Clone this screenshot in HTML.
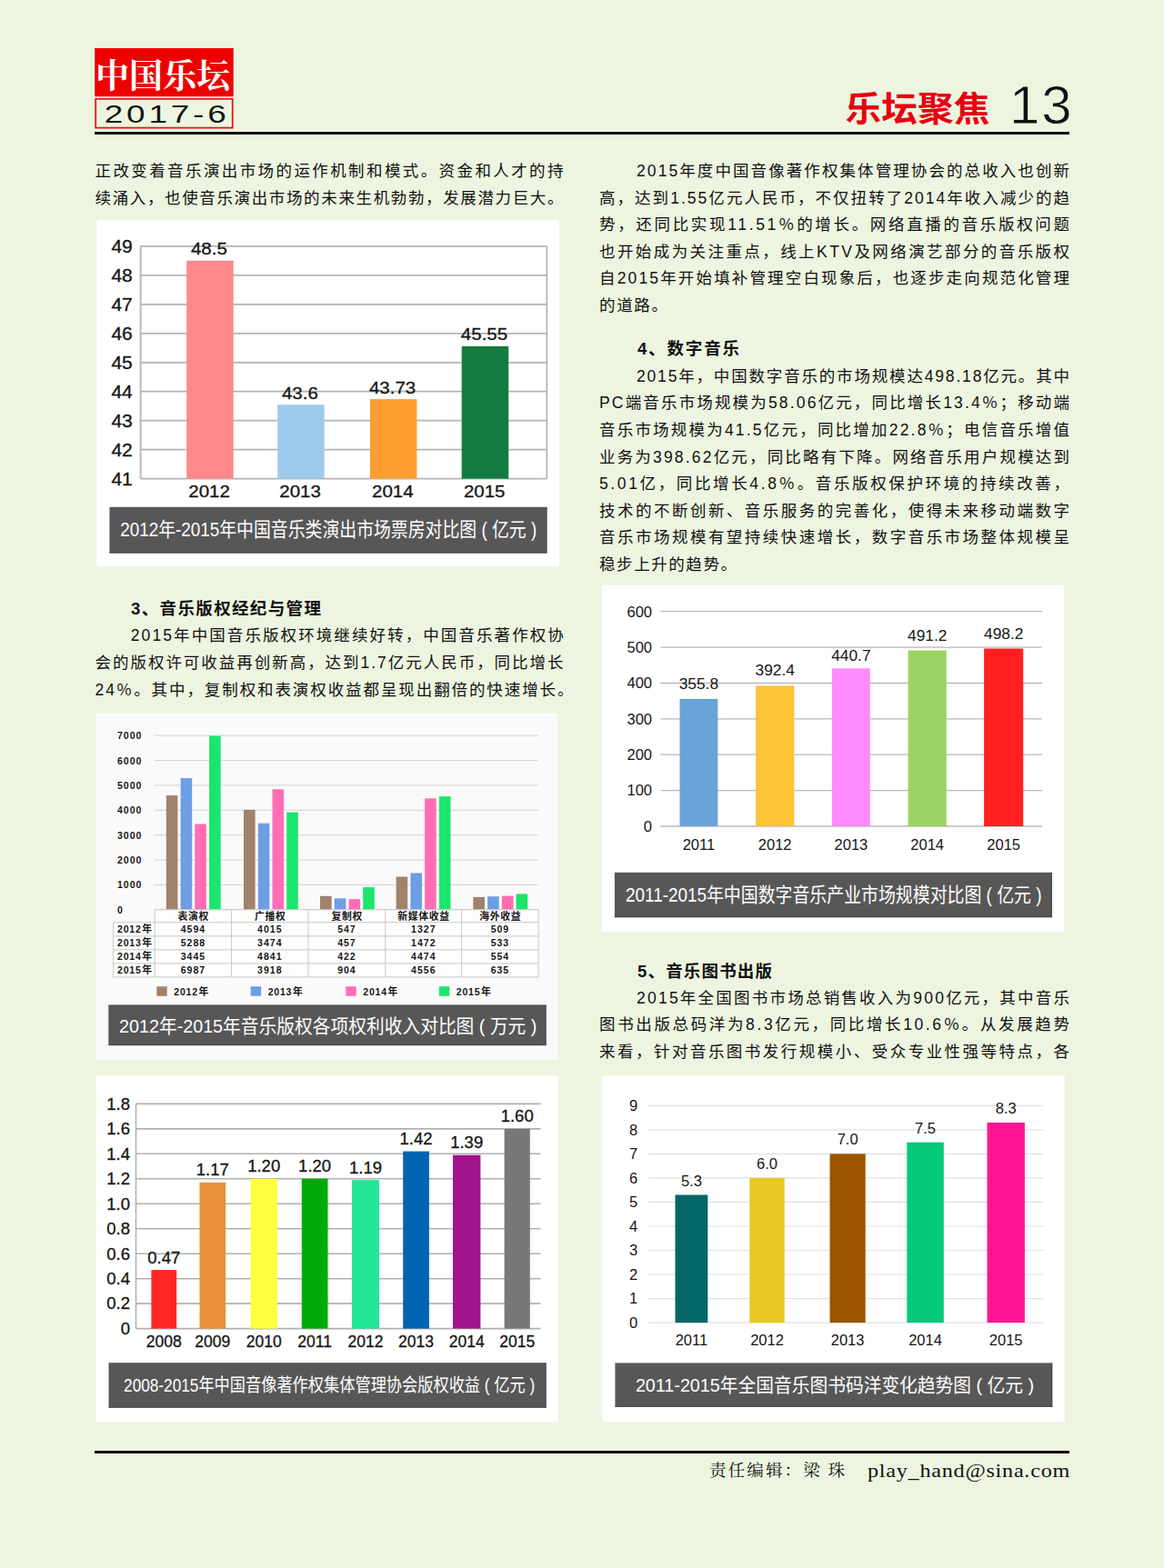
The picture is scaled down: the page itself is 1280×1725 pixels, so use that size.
<!DOCTYPE html>
<html lang="zh-CN"><head><meta charset="utf-8"><title>乐坛聚焦 13</title>
<style>
html,body{margin:0;padding:0}
body{width:1280px;height:1725px;background:#edf5e0;position:relative;overflow:hidden;font-family:"Liberation Sans","Noto Sans CJK SC",sans-serif;color:#151515}
svg{position:absolute;left:0;top:0;font-family:"Liberation Sans","Noto Sans CJK SC",sans-serif}
.t{position:absolute;margin:0;font-weight:normal;line-height:1.4;white-space:nowrap;overflow:hidden;color:transparent}
.pn{position:absolute;left:1102.2px;top:83.7px;width:78.5px;height:64px;line-height:64px;font-size:60px;letter-spacing:2px;text-align:right;color:#111;-webkit-text-stroke:0.8px #edf5e0}
.fe{position:absolute;left:954px;top:1604.6px;width:200px;height:26px;line-height:26px;font-size:21px;letter-spacing:0.66px;transform:scaleX(1.15);transform-origin:0 0;font-family:"Liberation Serif",serif;white-space:nowrap;color:#111}
.bd{font-size:17.5px;fill:#111}
.hd{font-size:18.5px;font-weight:bold;fill:#111}
.th{font-size:10.8px;font-weight:bold;fill:#151515}
</style></head><body>
<svg width="1280" height="1725" viewBox="0 0 1280 1725">
<rect x="0.0" y="0.0" width="1280.0" height="1.0" fill="#f4f8ea"/>
<rect x="0.0" y="1724.0" width="1280.0" height="1.0" fill="#f4f8ea"/>
<rect x="17.5" y="0.0" width="1.0" height="1725.0" fill="#f0f6e5"/>
<rect x="104.2" y="53.0" width="152.5" height="53.2" fill="#ee0000"/>
<text x="105" y="97" font-size="37" font-weight="bold" fill="#fff" textLength="148" lengthAdjust="spacingAndGlyphs" font-family='"Liberation Serif","Noto Serif CJK SC",serif'>中国乐坛</text>
<rect x="105.2" y="108.8" width="150.5" height="31.8" fill="none" stroke="#e8141a" stroke-width="1.8"/>
<text transform="translate(183.6 135.4) scale(1.31 1)" font-size="28.2" letter-spacing="2.9" text-anchor="middle" fill="#151515">2017-6</text>
<rect x="104.0" y="145.0" width="1072.0" height="3.0" fill="#111"/>
<rect x="104.0" y="1596.0" width="1072.0" height="3.0" fill="#111"/>
<text x="929.5" y="132.7" font-size="38" font-weight="bold" fill="#e60012" textLength="159" lengthAdjust="spacingAndGlyphs">乐坛聚焦</text>
<rect x="106.3" y="242.4" width="508.6" height="380.9" fill="#fff"/>
<path d="M154.6 270.9H601.4" stroke="#b4b4b4" stroke-width="1.8"/>
<text x="145.8" y="277.8" font-size="19.3" text-anchor="end" fill="#151515" stroke="#151515" stroke-width="0.3" textLength="23.4" lengthAdjust="spacingAndGlyphs">49</text>
<path d="M154.6 302.9H601.4" stroke="#b4b4b4" stroke-width="1.8"/>
<text x="145.8" y="309.8" font-size="19.3" text-anchor="end" fill="#151515" stroke="#151515" stroke-width="0.3" textLength="23.4" lengthAdjust="spacingAndGlyphs">48</text>
<path d="M154.6 334.8H601.4" stroke="#b4b4b4" stroke-width="1.8"/>
<text x="145.8" y="341.7" font-size="19.3" text-anchor="end" fill="#151515" stroke="#151515" stroke-width="0.3" textLength="23.4" lengthAdjust="spacingAndGlyphs">47</text>
<path d="M154.6 366.8H601.4" stroke="#b4b4b4" stroke-width="1.8"/>
<text x="145.8" y="373.7" font-size="19.3" text-anchor="end" fill="#151515" stroke="#151515" stroke-width="0.3" textLength="23.4" lengthAdjust="spacingAndGlyphs">46</text>
<path d="M154.6 398.8H601.4" stroke="#b4b4b4" stroke-width="1.8"/>
<text x="145.8" y="405.6" font-size="19.3" text-anchor="end" fill="#151515" stroke="#151515" stroke-width="0.3" textLength="23.4" lengthAdjust="spacingAndGlyphs">45</text>
<path d="M154.6 430.7H601.4" stroke="#b4b4b4" stroke-width="1.8"/>
<text x="145.8" y="437.6" font-size="19.3" text-anchor="end" fill="#151515" stroke="#151515" stroke-width="0.3" textLength="23.4" lengthAdjust="spacingAndGlyphs">44</text>
<path d="M154.6 462.7H601.4" stroke="#b4b4b4" stroke-width="1.8"/>
<text x="145.8" y="469.6" font-size="19.3" text-anchor="end" fill="#151515" stroke="#151515" stroke-width="0.3" textLength="23.4" lengthAdjust="spacingAndGlyphs">43</text>
<path d="M154.6 494.6H601.4" stroke="#b4b4b4" stroke-width="1.8"/>
<text x="145.8" y="501.5" font-size="19.3" text-anchor="end" fill="#151515" stroke="#151515" stroke-width="0.3" textLength="23.4" lengthAdjust="spacingAndGlyphs">42</text>
<path d="M154.6 526.6H601.4" stroke="#b4b4b4" stroke-width="1.8"/>
<text x="145.8" y="533.5" font-size="19.3" text-anchor="end" fill="#151515" stroke="#151515" stroke-width="0.3" textLength="23.4" lengthAdjust="spacingAndGlyphs">41</text>
<path d="M154.6 270.9V526.6" stroke="#b4b4b4" stroke-width="1.8"/>
<path d="M601.4 270.9V526.6" stroke="#b4b4b4" stroke-width="1.8"/>
<rect x="205.2" y="286.7" width="51.5" height="239.9" fill="#ff8888"/>
<text x="229.9" y="280.2" font-size="19" text-anchor="middle" fill="#151515" stroke="#151515" stroke-width="0.3" textLength="39.9" lengthAdjust="spacingAndGlyphs">48.5</text>
<text x="230.1" y="546.6" font-size="18" text-anchor="middle" fill="#151515" stroke="#151515" stroke-width="0.3" textLength="45.6" lengthAdjust="spacingAndGlyphs">2012</text>
<rect x="305.2" y="445.2" width="51.5" height="81.4" fill="#9ecbec"/>
<text x="329.9" y="438.7" font-size="19" text-anchor="middle" fill="#151515" stroke="#151515" stroke-width="0.3" textLength="39.9" lengthAdjust="spacingAndGlyphs">43.6</text>
<text x="330.1" y="546.6" font-size="18" text-anchor="middle" fill="#151515" stroke="#151515" stroke-width="0.3" textLength="45.6" lengthAdjust="spacingAndGlyphs">2013</text>
<rect x="406.9" y="439.1" width="51.5" height="87.5" fill="#ff9e30"/>
<text x="431.6" y="432.6" font-size="19" text-anchor="middle" fill="#151515" stroke="#151515" stroke-width="0.3" textLength="51.3" lengthAdjust="spacingAndGlyphs">43.73</text>
<text x="431.8" y="546.6" font-size="18" text-anchor="middle" fill="#151515" stroke="#151515" stroke-width="0.3" textLength="45.6" lengthAdjust="spacingAndGlyphs">2014</text>
<rect x="507.7" y="380.9" width="51.5" height="145.7" fill="#147b40"/>
<text x="532.5" y="374.4" font-size="19" text-anchor="middle" fill="#151515" stroke="#151515" stroke-width="0.3" textLength="51.3" lengthAdjust="spacingAndGlyphs">45.55</text>
<text x="532.7" y="546.6" font-size="18" text-anchor="middle" fill="#151515" stroke="#151515" stroke-width="0.3" textLength="45.6" lengthAdjust="spacingAndGlyphs">2015</text>
<rect x="120.4" y="557.8" width="481.0" height="50.7" fill="#575757"/>
<rect x="600.2" y="557.8" width="1.2" height="50.7" fill="#474747"/>
<rect x="120.4" y="607.3" width="481.0" height="1.2" fill="#474747"/>
<text x="132.2" y="590.2" font-size="22" fill="#fff" textLength="458" lengthAdjust="spacingAndGlyphs">2012年-2015年中国音乐类演出市场票房对比图 ( 亿元 )</text>
<rect x="105.4" y="784.7" width="508.3" height="381.1" fill="#fafafa"/>
<path d="M170.2 809.2H592.1" stroke="#d2d2d2" stroke-width="1"/>
<text x="129.0" y="813.1" font-size="10.5" text-anchor="start" fill="#151515" font-weight="bold" letter-spacing="1">7000</text>
<path d="M170.2 836.6H592.1" stroke="#d2d2d2" stroke-width="1"/>
<text x="129.0" y="840.5" font-size="10.5" text-anchor="start" fill="#151515" font-weight="bold" letter-spacing="1">6000</text>
<path d="M170.2 863.9H592.1" stroke="#d2d2d2" stroke-width="1"/>
<text x="129.0" y="867.8" font-size="10.5" text-anchor="start" fill="#151515" font-weight="bold" letter-spacing="1">5000</text>
<path d="M170.2 891.3H592.1" stroke="#d2d2d2" stroke-width="1"/>
<text x="129.0" y="895.2" font-size="10.5" text-anchor="start" fill="#151515" font-weight="bold" letter-spacing="1">4000</text>
<path d="M170.2 918.7H592.1" stroke="#d2d2d2" stroke-width="1"/>
<text x="129.0" y="922.6" font-size="10.5" text-anchor="start" fill="#151515" font-weight="bold" letter-spacing="1">3000</text>
<path d="M170.2 946.1H592.1" stroke="#d2d2d2" stroke-width="1"/>
<text x="129.0" y="950.0" font-size="10.5" text-anchor="start" fill="#151515" font-weight="bold" letter-spacing="1">2000</text>
<path d="M170.2 973.4H592.1" stroke="#d2d2d2" stroke-width="1"/>
<text x="129.0" y="977.3" font-size="10.5" text-anchor="start" fill="#151515" font-weight="bold" letter-spacing="1">1000</text>
<path d="M170.2 1000.8H592.1" stroke="#d2d2d2" stroke-width="1"/>
<text x="129.0" y="1004.7" font-size="10.5" text-anchor="start" fill="#151515" font-weight="bold" letter-spacing="1">0</text>
<rect x="182.8" y="875.1" width="12.6" height="125.7" fill="#a0826d"/>
<rect x="198.6" y="856.1" width="12.6" height="144.7" fill="#6d9ee6"/>
<rect x="214.3" y="906.5" width="12.6" height="94.3" fill="#ff6eb4"/>
<rect x="230.1" y="809.6" width="12.6" height="191.2" fill="#1ce56c"/>
<rect x="268.0" y="890.9" width="12.6" height="109.9" fill="#a0826d"/>
<rect x="283.8" y="905.7" width="12.6" height="95.1" fill="#6d9ee6"/>
<rect x="299.5" y="868.3" width="12.6" height="132.5" fill="#ff6eb4"/>
<rect x="315.2" y="893.6" width="12.6" height="107.2" fill="#1ce56c"/>
<rect x="352.0" y="985.8" width="12.6" height="15.0" fill="#a0826d"/>
<rect x="367.8" y="988.3" width="12.6" height="12.5" fill="#6d9ee6"/>
<rect x="383.5" y="989.2" width="12.6" height="11.6" fill="#ff6eb4"/>
<rect x="399.2" y="976.1" width="12.6" height="24.7" fill="#1ce56c"/>
<rect x="435.6" y="964.5" width="12.6" height="36.3" fill="#a0826d"/>
<rect x="451.4" y="960.5" width="12.6" height="40.3" fill="#6d9ee6"/>
<rect x="467.1" y="878.3" width="12.6" height="122.5" fill="#ff6eb4"/>
<rect x="482.9" y="876.1" width="12.6" height="124.7" fill="#1ce56c"/>
<rect x="520.4" y="986.9" width="12.6" height="13.9" fill="#a0826d"/>
<rect x="536.1" y="986.2" width="12.6" height="14.6" fill="#6d9ee6"/>
<rect x="551.9" y="985.6" width="12.6" height="15.2" fill="#ff6eb4"/>
<rect x="567.6" y="983.4" width="12.6" height="17.4" fill="#1ce56c"/>
<rect x="124.6" y="1014.7" width="467.5" height="60.2" fill="#fdfdfd"/>
<rect x="170.2" y="1000.8" width="421.9" height="13.9" fill="#fdfdfd"/>
<path d="M170.2 1000.8H592.1" stroke="#c8c8c8" stroke-width="1"/>
<path d="M124.6 1014.7H592.1" stroke="#c8c8c8" stroke-width="1"/>
<path d="M124.6 1029.9H592.1" stroke="#c8c8c8" stroke-width="1"/>
<path d="M124.6 1044.9H592.1" stroke="#c8c8c8" stroke-width="1"/>
<path d="M124.6 1059.9H592.1" stroke="#c8c8c8" stroke-width="1"/>
<path d="M124.6 1074.9H592.1" stroke="#c8c8c8" stroke-width="1"/>
<path d="M124.6 1014.7V1074.9" stroke="#c8c8c8" stroke-width="1"/>
<path d="M170.2 1000.8V1074.9" stroke="#c8c8c8" stroke-width="1"/>
<path d="M254.6 1000.8V1074.9" stroke="#c8c8c8" stroke-width="1"/>
<path d="M339.0 1000.8V1074.9" stroke="#c8c8c8" stroke-width="1"/>
<path d="M423.8 1000.8V1074.9" stroke="#c8c8c8" stroke-width="1"/>
<path d="M507.7 1000.8V1074.9" stroke="#c8c8c8" stroke-width="1"/>
<path d="M592.1 1000.8V1074.9" stroke="#c8c8c8" stroke-width="1"/>
<text class="th" x="195.5" y="1011.7" textLength="33.8">表演权</text>
<text x="212.4" y="1026.0" font-size="10.5" text-anchor="middle" fill="#151515" font-weight="bold" letter-spacing="1">4594</text>
<text x="212.4" y="1041.0" font-size="10.5" text-anchor="middle" fill="#151515" font-weight="bold" letter-spacing="1">5288</text>
<text x="212.4" y="1056.0" font-size="10.5" text-anchor="middle" fill="#151515" font-weight="bold" letter-spacing="1">3445</text>
<text x="212.4" y="1071.0" font-size="10.5" text-anchor="middle" fill="#151515" font-weight="bold" letter-spacing="1">6987</text>
<text class="th" x="279.9" y="1011.7" textLength="33.8">广播权</text>
<text x="296.8" y="1026.0" font-size="10.5" text-anchor="middle" fill="#151515" font-weight="bold" letter-spacing="1">4015</text>
<text x="296.8" y="1041.0" font-size="10.5" text-anchor="middle" fill="#151515" font-weight="bold" letter-spacing="1">3474</text>
<text x="296.8" y="1056.0" font-size="10.5" text-anchor="middle" fill="#151515" font-weight="bold" letter-spacing="1">4841</text>
<text x="296.8" y="1071.0" font-size="10.5" text-anchor="middle" fill="#151515" font-weight="bold" letter-spacing="1">3918</text>
<text class="th" x="364.5" y="1011.7" textLength="33.8">复制权</text>
<text x="381.4" y="1026.0" font-size="10.5" text-anchor="middle" fill="#151515" font-weight="bold" letter-spacing="1">547</text>
<text x="381.4" y="1041.0" font-size="10.5" text-anchor="middle" fill="#151515" font-weight="bold" letter-spacing="1">457</text>
<text x="381.4" y="1056.0" font-size="10.5" text-anchor="middle" fill="#151515" font-weight="bold" letter-spacing="1">422</text>
<text x="381.4" y="1071.0" font-size="10.5" text-anchor="middle" fill="#151515" font-weight="bold" letter-spacing="1">904</text>
<text class="th" x="437.35" y="1011.7" textLength="56.8">新媒体收益</text>
<text x="465.8" y="1026.0" font-size="10.5" text-anchor="middle" fill="#151515" font-weight="bold" letter-spacing="1">1327</text>
<text x="465.8" y="1041.0" font-size="10.5" text-anchor="middle" fill="#151515" font-weight="bold" letter-spacing="1">1472</text>
<text x="465.8" y="1056.0" font-size="10.5" text-anchor="middle" fill="#151515" font-weight="bold" letter-spacing="1">4474</text>
<text x="465.8" y="1071.0" font-size="10.5" text-anchor="middle" fill="#151515" font-weight="bold" letter-spacing="1">4556</text>
<text class="th" x="527.25" y="1011.7" textLength="45.3">海外收益</text>
<text x="549.9" y="1026.0" font-size="10.5" text-anchor="middle" fill="#151515" font-weight="bold" letter-spacing="1">509</text>
<text x="549.9" y="1041.0" font-size="10.5" text-anchor="middle" fill="#151515" font-weight="bold" letter-spacing="1">533</text>
<text x="549.9" y="1056.0" font-size="10.5" text-anchor="middle" fill="#151515" font-weight="bold" letter-spacing="1">554</text>
<text x="549.9" y="1071.0" font-size="10.5" text-anchor="middle" fill="#151515" font-weight="bold" letter-spacing="1">635</text>
<text x="129.0" y="1026.0" font-size="10.5" text-anchor="start" fill="#151515" font-weight="bold" letter-spacing="0.8">2012</text>
<text class="th" x="156.3" y="1026.2">年</text>
<text x="129.0" y="1041.0" font-size="10.5" text-anchor="start" fill="#151515" font-weight="bold" letter-spacing="0.8">2013</text>
<text class="th" x="156.3" y="1041.2">年</text>
<text x="129.0" y="1056.0" font-size="10.5" text-anchor="start" fill="#151515" font-weight="bold" letter-spacing="0.8">2014</text>
<text class="th" x="156.3" y="1056.2">年</text>
<text x="129.0" y="1071.0" font-size="10.5" text-anchor="start" fill="#151515" font-weight="bold" letter-spacing="0.8">2015</text>
<text class="th" x="156.3" y="1071.2">年</text>
<rect x="172.3" y="1085.2" width="11.4" height="10.6" fill="#a0826d"/>
<text x="191.3" y="1094.6" font-size="10.5" text-anchor="start" fill="#151515" font-weight="bold" letter-spacing="0.8">2012</text>
<text class="th" x="218.6" y="1094.8">年</text>
<rect x="275.7" y="1085.2" width="11.4" height="10.6" fill="#6d9ee6"/>
<text x="294.7" y="1094.6" font-size="10.5" text-anchor="start" fill="#151515" font-weight="bold" letter-spacing="0.8">2013</text>
<text class="th" x="322.0" y="1094.8">年</text>
<rect x="380.3" y="1085.2" width="11.4" height="10.6" fill="#ff6eb4"/>
<text x="399.3" y="1094.6" font-size="10.5" text-anchor="start" fill="#151515" font-weight="bold" letter-spacing="0.8">2014</text>
<text class="th" x="426.6" y="1094.8">年</text>
<rect x="482.8" y="1085.2" width="11.4" height="10.6" fill="#1ce56c"/>
<text x="501.8" y="1094.6" font-size="10.5" text-anchor="start" fill="#151515" font-weight="bold" letter-spacing="0.8">2015</text>
<text class="th" x="529.1" y="1094.8">年</text>
<rect x="119.3" y="1105.4" width="481.2" height="44.7" fill="#575757"/>
<rect x="599.3" y="1105.4" width="1.2" height="44.7" fill="#474747"/>
<rect x="119.3" y="1148.9" width="481.2" height="1.2" fill="#474747"/>
<text x="131.0" y="1135.5" font-size="21" fill="#fff" textLength="459.4" lengthAdjust="spacingAndGlyphs">2012年-2015年音乐版权各项权利收入对比图 ( 万元 )</text>
<rect x="105.4" y="1183.2" width="508.4" height="381.2" fill="#fff"/>
<path d="M149.5 1214.4H594.6" stroke="#b0b0b0" stroke-width="1.6"/>
<text x="143.0" y="1220.7" font-size="17.8" text-anchor="end" fill="#151515" stroke="#151515" stroke-width="0.3" textLength="25.7" lengthAdjust="spacingAndGlyphs">1.8</text>
<path d="M149.5 1241.9H594.6" stroke="#b0b0b0" stroke-width="1.6"/>
<text x="143.0" y="1248.2" font-size="17.8" text-anchor="end" fill="#151515" stroke="#151515" stroke-width="0.3" textLength="25.7" lengthAdjust="spacingAndGlyphs">1.6</text>
<path d="M149.5 1269.3H594.6" stroke="#b0b0b0" stroke-width="1.6"/>
<text x="143.0" y="1275.6" font-size="17.8" text-anchor="end" fill="#151515" stroke="#151515" stroke-width="0.3" textLength="25.7" lengthAdjust="spacingAndGlyphs">1.4</text>
<path d="M149.5 1296.8H594.6" stroke="#b0b0b0" stroke-width="1.6"/>
<text x="143.0" y="1303.1" font-size="17.8" text-anchor="end" fill="#151515" stroke="#151515" stroke-width="0.3" textLength="25.7" lengthAdjust="spacingAndGlyphs">1.2</text>
<path d="M149.5 1324.3H594.6" stroke="#b0b0b0" stroke-width="1.6"/>
<text x="143.0" y="1330.6" font-size="17.8" text-anchor="end" fill="#151515" stroke="#151515" stroke-width="0.3" textLength="25.7" lengthAdjust="spacingAndGlyphs">1.0</text>
<path d="M149.5 1351.7H594.6" stroke="#b0b0b0" stroke-width="1.6"/>
<text x="143.0" y="1358.0" font-size="17.8" text-anchor="end" fill="#151515" stroke="#151515" stroke-width="0.3" textLength="25.7" lengthAdjust="spacingAndGlyphs">0.8</text>
<path d="M149.5 1379.2H594.6" stroke="#b0b0b0" stroke-width="1.6"/>
<text x="143.0" y="1385.5" font-size="17.8" text-anchor="end" fill="#151515" stroke="#151515" stroke-width="0.3" textLength="25.7" lengthAdjust="spacingAndGlyphs">0.6</text>
<path d="M149.5 1406.7H594.6" stroke="#b0b0b0" stroke-width="1.6"/>
<text x="143.0" y="1413.0" font-size="17.8" text-anchor="end" fill="#151515" stroke="#151515" stroke-width="0.3" textLength="25.7" lengthAdjust="spacingAndGlyphs">0.4</text>
<path d="M149.5 1434.1H594.6" stroke="#b0b0b0" stroke-width="1.6"/>
<text x="143.0" y="1440.4" font-size="17.8" text-anchor="end" fill="#151515" stroke="#151515" stroke-width="0.3" textLength="25.7" lengthAdjust="spacingAndGlyphs">0.2</text>
<path d="M149.5 1461.6H594.6" stroke="#b0b0b0" stroke-width="1.6"/>
<text x="143.0" y="1467.9" font-size="17.8" text-anchor="end" fill="#151515" stroke="#151515" stroke-width="0.3" textLength="10.3" lengthAdjust="spacingAndGlyphs">0</text>
<path d="M149.5 1214.4V1461.6" stroke="#b0b0b0" stroke-width="1.6"/>
<rect x="166.4" y="1397.1" width="27.8" height="64.5" fill="#ff2626"/>
<text x="180.3" y="1389.6" font-size="17.8" text-anchor="middle" fill="#151515" stroke="#151515" stroke-width="0.3" textLength="36.0" lengthAdjust="spacingAndGlyphs">0.47</text>
<text x="180.3" y="1482.4" font-size="17.5" text-anchor="middle" fill="#151515" stroke="#151515" stroke-width="0.3">2008</text>
<rect x="219.5" y="1300.9" width="28.7" height="160.7" fill="#e8903a"/>
<text x="233.8" y="1293.4" font-size="17.8" text-anchor="middle" fill="#151515" stroke="#151515" stroke-width="0.3" textLength="36.0" lengthAdjust="spacingAndGlyphs">1.17</text>
<text x="233.8" y="1482.4" font-size="17.5" text-anchor="middle" fill="#151515" stroke="#151515" stroke-width="0.3">2009</text>
<rect x="275.7" y="1296.8" width="29.1" height="164.8" fill="#ffff3c"/>
<text x="290.2" y="1289.3" font-size="17.8" text-anchor="middle" fill="#151515" stroke="#151515" stroke-width="0.3" textLength="36.0" lengthAdjust="spacingAndGlyphs">1.20</text>
<text x="290.2" y="1482.4" font-size="17.5" text-anchor="middle" fill="#151515" stroke="#151515" stroke-width="0.3">2010</text>
<rect x="331.8" y="1296.8" width="28.7" height="164.8" fill="#00aa0a"/>
<text x="346.1" y="1289.3" font-size="17.8" text-anchor="middle" fill="#151515" stroke="#151515" stroke-width="0.3" textLength="36.0" lengthAdjust="spacingAndGlyphs">1.20</text>
<text x="346.1" y="1482.4" font-size="17.5" text-anchor="middle" fill="#151515" stroke="#151515" stroke-width="0.3">2011</text>
<rect x="387.0" y="1298.2" width="30.0" height="163.4" fill="#22e696"/>
<text x="402.0" y="1290.7" font-size="17.8" text-anchor="middle" fill="#151515" stroke="#151515" stroke-width="0.3" textLength="36.0" lengthAdjust="spacingAndGlyphs">1.19</text>
<text x="402.0" y="1482.4" font-size="17.5" text-anchor="middle" fill="#151515" stroke="#151515" stroke-width="0.3">2012</text>
<rect x="443.2" y="1266.6" width="28.7" height="195.0" fill="#0064b4"/>
<text x="457.5" y="1259.1" font-size="17.8" text-anchor="middle" fill="#151515" stroke="#151515" stroke-width="0.3" textLength="36.0" lengthAdjust="spacingAndGlyphs">1.42</text>
<text x="457.5" y="1482.4" font-size="17.5" text-anchor="middle" fill="#151515" stroke="#151515" stroke-width="0.3">2013</text>
<rect x="498.0" y="1270.7" width="30.4" height="190.9" fill="#a0148c"/>
<text x="513.2" y="1263.2" font-size="17.8" text-anchor="middle" fill="#151515" stroke="#151515" stroke-width="0.3" textLength="36.0" lengthAdjust="spacingAndGlyphs">1.39</text>
<text x="513.2" y="1482.4" font-size="17.5" text-anchor="middle" fill="#151515" stroke="#151515" stroke-width="0.3">2014</text>
<rect x="554.6" y="1241.9" width="28.2" height="219.7" fill="#787878"/>
<text x="568.7" y="1234.4" font-size="17.8" text-anchor="middle" fill="#151515" stroke="#151515" stroke-width="0.3" textLength="36.0" lengthAdjust="spacingAndGlyphs">1.60</text>
<text x="568.7" y="1482.4" font-size="17.5" text-anchor="middle" fill="#151515" stroke="#151515" stroke-width="0.3">2015</text>
<rect x="119.5" y="1499.2" width="481.0" height="49.4" fill="#575757"/>
<rect x="599.3" y="1499.2" width="1.2" height="49.4" fill="#474747"/>
<rect x="119.5" y="1547.4" width="481.0" height="1.2" fill="#474747"/>
<text x="136.1" y="1530.5" font-size="20" fill="#fff" textLength="452.2" lengthAdjust="spacingAndGlyphs">2008-2015年中国音像著作权集体管理协会版权收益 ( 亿元 )</text>
<rect x="661.5" y="643.8" width="508.5" height="381.1" fill="#fff"/>
<path d="M726.4 672.7H1145.8" stroke="#b8b8b8" stroke-width="1.3"/>
<text x="717.0" y="678.5" font-size="16.5" text-anchor="end" fill="#151515">600</text>
<path d="M726.4 712.1H1145.8" stroke="#b8b8b8" stroke-width="1.3"/>
<text x="717.0" y="717.9" font-size="16.5" text-anchor="end" fill="#151515">500</text>
<path d="M726.4 751.5H1145.8" stroke="#b8b8b8" stroke-width="1.3"/>
<text x="717.0" y="757.3" font-size="16.5" text-anchor="end" fill="#151515">400</text>
<path d="M726.4 790.9H1145.8" stroke="#b8b8b8" stroke-width="1.3"/>
<text x="717.0" y="796.6" font-size="16.5" text-anchor="end" fill="#151515">300</text>
<path d="M726.4 830.2H1145.8" stroke="#b8b8b8" stroke-width="1.3"/>
<text x="717.0" y="836.0" font-size="16.5" text-anchor="end" fill="#151515">200</text>
<path d="M726.4 869.6H1145.8" stroke="#b8b8b8" stroke-width="1.3"/>
<text x="717.0" y="875.4" font-size="16.5" text-anchor="end" fill="#151515">100</text>
<path d="M726.4 909.0H1145.8" stroke="#b8b8b8" stroke-width="1.3"/>
<text x="717.0" y="914.8" font-size="16.5" text-anchor="end" fill="#151515">0</text>
<rect x="747.5" y="768.9" width="41.8" height="140.1" fill="#68a4d8"/>
<text x="768.4" y="758.1" font-size="16.8" text-anchor="middle" fill="#151515" textLength="43.3" lengthAdjust="spacingAndGlyphs">355.8</text>
<text x="768.4" y="935.0" font-size="16.5" text-anchor="middle" fill="#151515">2011</text>
<rect x="831.1" y="754.5" width="42.2" height="154.5" fill="#fcc436"/>
<text x="852.2" y="742.5" font-size="16.8" text-anchor="middle" fill="#151515" textLength="43.3" lengthAdjust="spacingAndGlyphs">392.4</text>
<text x="852.2" y="935.0" font-size="16.5" text-anchor="middle" fill="#151515">2012</text>
<rect x="915.0" y="735.4" width="41.8" height="173.6" fill="#ff8cff"/>
<text x="935.9" y="727.1" font-size="16.8" text-anchor="middle" fill="#151515" textLength="43.3" lengthAdjust="spacingAndGlyphs">440.7</text>
<text x="935.9" y="935.0" font-size="16.5" text-anchor="middle" fill="#151515">2013</text>
<rect x="998.6" y="715.5" width="42.2" height="193.5" fill="#9cd264"/>
<text x="1019.7" y="704.7" font-size="16.8" text-anchor="middle" fill="#151515" textLength="43.3" lengthAdjust="spacingAndGlyphs">491.2</text>
<text x="1019.7" y="935.0" font-size="16.5" text-anchor="middle" fill="#151515">2014</text>
<rect x="1082.1" y="713.5" width="43.1" height="195.5" fill="#ff2020"/>
<text x="1103.7" y="702.6" font-size="16.8" text-anchor="middle" fill="#151515" textLength="43.3" lengthAdjust="spacingAndGlyphs">498.2</text>
<text x="1103.7" y="935.0" font-size="16.5" text-anchor="middle" fill="#151515">2015</text>
<rect x="675.9" y="959.8" width="480.9" height="49.4" fill="#575757"/>
<rect x="1155.6" y="959.8" width="1.2" height="49.4" fill="#474747"/>
<rect x="675.9" y="1008.0" width="480.9" height="1.2" fill="#474747"/>
<text x="688.0" y="992.2" font-size="22" fill="#fff" textLength="457.5" lengthAdjust="spacingAndGlyphs">2011-2015年中国数字音乐产业市场规模对比图 ( 亿元 )</text>
<rect x="662.3" y="1183.2" width="508.5" height="381.1" fill="#fff"/>
<path d="M712.5 1216.3H1147.1" stroke="#e2e2e2" stroke-width="1.2"/>
<text x="696.7" y="1222.1" font-size="16.5" text-anchor="middle" fill="#151515">9</text>
<path d="M712.5 1242.8H1147.1" stroke="#e2e2e2" stroke-width="1.2"/>
<text x="696.7" y="1248.6" font-size="16.5" text-anchor="middle" fill="#151515">8</text>
<path d="M712.5 1269.4H1147.1" stroke="#e2e2e2" stroke-width="1.2"/>
<text x="696.7" y="1275.2" font-size="16.5" text-anchor="middle" fill="#151515">7</text>
<path d="M712.5 1295.9H1147.1" stroke="#e2e2e2" stroke-width="1.2"/>
<text x="696.7" y="1301.7" font-size="16.5" text-anchor="middle" fill="#151515">6</text>
<path d="M712.5 1322.4H1147.1" stroke="#e2e2e2" stroke-width="1.2"/>
<text x="696.7" y="1328.2" font-size="16.5" text-anchor="middle" fill="#151515">5</text>
<path d="M712.5 1349.0H1147.1" stroke="#e2e2e2" stroke-width="1.2"/>
<text x="696.7" y="1354.8" font-size="16.5" text-anchor="middle" fill="#151515">4</text>
<path d="M712.5 1375.5H1147.1" stroke="#e2e2e2" stroke-width="1.2"/>
<text x="696.7" y="1381.3" font-size="16.5" text-anchor="middle" fill="#151515">3</text>
<path d="M712.5 1402.0H1147.1" stroke="#e2e2e2" stroke-width="1.2"/>
<text x="696.7" y="1407.8" font-size="16.5" text-anchor="middle" fill="#151515">2</text>
<path d="M712.5 1428.6H1147.1" stroke="#e2e2e2" stroke-width="1.2"/>
<text x="696.7" y="1434.4" font-size="16.5" text-anchor="middle" fill="#151515">1</text>
<path d="M712.5 1455.1H1147.1" stroke="#e2e2e2" stroke-width="1.2"/>
<text x="696.7" y="1460.9" font-size="16.5" text-anchor="middle" fill="#151515">0</text>
<rect x="742.5" y="1314.5" width="35.8" height="140.6" fill="#056666"/>
<text x="760.4" y="1304.5" font-size="16.5" text-anchor="middle" fill="#151515">5.3</text>
<text x="760.4" y="1480.1" font-size="16.5" text-anchor="middle" fill="#151515">2011</text>
<rect x="824.3" y="1295.9" width="38.4" height="159.2" fill="#e6c824"/>
<text x="843.5" y="1285.9" font-size="16.5" text-anchor="middle" fill="#151515">6.0</text>
<text x="843.5" y="1480.1" font-size="16.5" text-anchor="middle" fill="#151515">2012</text>
<rect x="912.5" y="1269.4" width="39.2" height="185.7" fill="#9b5500"/>
<text x="932.1" y="1259.4" font-size="16.5" text-anchor="middle" fill="#151515">7.0</text>
<text x="932.1" y="1480.1" font-size="16.5" text-anchor="middle" fill="#151515">2013</text>
<rect x="997.3" y="1256.7" width="40.5" height="198.4" fill="#05c878"/>
<text x="1017.5" y="1246.7" font-size="16.5" text-anchor="middle" fill="#151515">7.5</text>
<text x="1017.5" y="1480.1" font-size="16.5" text-anchor="middle" fill="#151515">2014</text>
<rect x="1085.5" y="1234.9" width="41.4" height="220.2" fill="#ff1493"/>
<text x="1106.2" y="1224.9" font-size="16.5" text-anchor="middle" fill="#151515">8.3</text>
<text x="1106.2" y="1480.1" font-size="16.5" text-anchor="middle" fill="#151515">2015</text>
<rect x="676.4" y="1499.4" width="480.8" height="48.3" fill="#575757"/>
<rect x="1156.0" y="1499.4" width="1.2" height="48.3" fill="#474747"/>
<rect x="676.4" y="1546.5" width="480.8" height="1.2" fill="#474747"/>
<text x="698.9" y="1531.3" font-size="21" fill="#fff" textLength="438.2" lengthAdjust="spacingAndGlyphs">2011-2015年全国音乐图书码洋变化趋势图 ( 亿元 )</text>
<text class="bd" x="104.5" y="194.2" textLength="515">正改变着音乐演出市场的运作机制和模式。资金和人才的持</text>
<text class="bd" x="104.5" y="223.7" textLength="515">续涌入，也使音乐演出市场的未来生机勃勃，发展潜力巨大。</text>
<text class="bd" x="143.8" y="705.0" textLength="476">2015年中国音乐版权环境继续好转，中国音乐著作权协</text>
<text class="bd" x="104.5" y="734.8" textLength="515">会的版权许可收益再创新高，达到1.7亿元人民币，同比增长</text>
<text class="bd" x="104.5" y="764.7" textLength="526">24％。其中，复制权和表演权收益都呈现出翻倍的快速增长。</text>
<text class="bd" x="700.0" y="194.0" textLength="476">2015年度中国音像著作权集体管理协会的总收入也创新</text>
<text class="bd" x="659.0" y="223.5" textLength="517">高，达到1.55亿元人民币，不仅扭转了2014年收入减少的趋</text>
<text class="bd" x="659.0" y="253.0" textLength="517">势，还同比实现11.51％的增长。网络直播的音乐版权问题</text>
<text class="bd" x="659.0" y="282.5" textLength="517">也开始成为关注重点，线上KTV及网络演艺部分的音乐版权</text>
<text class="bd" x="659.0" y="312.0" textLength="517">自2015年开始填补管理空白现象后，也逐步走向规范化管理</text>
<text class="bd" x="659.0" y="341.5" textLength="75">的道路。</text>
<text class="bd" x="700.0" y="420.4" textLength="476">2015年，中国数字音乐的市场规模达498.18亿元。其中</text>
<text class="bd" x="659.0" y="449.45" textLength="517">PC端音乐市场规模为58.06亿元，同比增长13.4％；移动端</text>
<text class="bd" x="659.0" y="479.0" textLength="517">音乐市场规模为41.5亿元，同比增加22.8％；电信音乐增值</text>
<text class="bd" x="659.0" y="508.55" textLength="517">业务为398.62亿元，同比略有下降。网络音乐用户规模达到</text>
<text class="bd" x="659.0" y="538.1" textLength="517">5.01亿，同比增长4.8％。音乐版权保护环境的持续改善，</text>
<text class="bd" x="659.0" y="567.65" textLength="517">技术的不断创新、音乐服务的完善化，使得未来移动端数字</text>
<text class="bd" x="659.0" y="597.2" textLength="517">音乐市场规模有望持续快速增长，数字音乐市场整体规模呈</text>
<text class="bd" x="659.0" y="626.75" textLength="151">稳步上升的趋势。</text>
<text class="bd" x="700.0" y="1103.8" textLength="476">2015年全国图书市场总销售收入为900亿元，其中音乐</text>
<text class="bd" x="659.0" y="1133.2" textLength="517">图书出版总码洋为8.3亿元，同比增长10.6％。从发展趋势</text>
<text class="bd" x="659.0" y="1162.7" textLength="517">来看，针对音乐图书发行规模小、受众专业性强等特点，各</text>
<text class="hd" x="144.0" y="676.3" textLength="209">3、音乐版权经纪与管理</text>
<text class="hd" x="701.0" y="390.3" textLength="112">4、数字音乐</text>
<text class="hd" x="701.0" y="1075.3" textLength="148">5、音乐图书出版</text>
<text x="780.0" y="1624.2" font-size="18.5" fill="#111" textLength="149" font-family='"Liberation Serif","Noto Serif CJK SC",serif'>责任编辑：梁 珠</text>
</svg>
<div class="pn">13</div>
<div class="t" style="left:106px;top:56px;width:150px;font-size:34px">中国乐坛</div>
<div class="t" style="left:929px;top:91px;width:160px;font-size:38px">乐坛聚焦</div>
<div class="t" style="left:132px;top:569px;width:458px;font-size:18.8px">2012年-2015年中国音乐类演出市场票房对比图 ( 亿元 )</div>
<div class="t" style="left:187px;top:1001px;width:50px;font-size:9px">表演权</div>
<div class="t" style="left:272px;top:1001px;width:50px;font-size:9px">广播权</div>
<div class="t" style="left:356px;top:1001px;width:50px;font-size:9px">复制权</div>
<div class="t" style="left:441px;top:1001px;width:50px;font-size:9px">新媒体收益</div>
<div class="t" style="left:525px;top:1001px;width:50px;font-size:9px">海外收益</div>
<div class="t" style="left:155px;top:1016px;width:12px;font-size:9px">年</div>
<div class="t" style="left:155px;top:1031px;width:12px;font-size:9px">年</div>
<div class="t" style="left:155px;top:1046px;width:12px;font-size:9px">年</div>
<div class="t" style="left:155px;top:1061px;width:12px;font-size:9px">年</div>
<div class="t" style="left:218px;top:1084px;width:12px;font-size:9px">年</div>
<div class="t" style="left:322px;top:1084px;width:12px;font-size:9px">年</div>
<div class="t" style="left:426px;top:1084px;width:12px;font-size:9px">年</div>
<div class="t" style="left:529px;top:1084px;width:12px;font-size:9px">年</div>
<div class="t" style="left:131px;top:1116px;width:459px;font-size:17.2px">2012年-2015年音乐版权各项权利收入对比图 ( 万元 )</div>
<div class="t" style="left:136px;top:1511px;width:452px;font-size:16.56px">2008-2015年中国音像著作权集体管理协会版权收益 ( 亿元 )</div>
<div class="t" style="left:688px;top:971px;width:457px;font-size:18.16px">2011-2015年中国数字音乐产业市场规模对比图 ( 亿元 )</div>
<div class="t" style="left:699px;top:1512px;width:438px;font-size:17.12px">2011-2015年全国音乐图书码洋变化趋势图 ( 亿元 )</div>
<div class="t" style="left:104px;top:176px;width:515px;font-size:17px">正改变着音乐演出市场的运作机制和模式。资金和人才的持</div>
<div class="t" style="left:104px;top:205px;width:515px;font-size:17px">续涌入，也使音乐演出市场的未来生机勃勃，发展潜力巨大。</div>
<div class="t" style="left:144px;top:686px;width:476px;font-size:17px">2015年中国音乐版权环境继续好转，中国音乐著作权协</div>
<div class="t" style="left:104px;top:716px;width:515px;font-size:17px">会的版权许可收益再创新高，达到1.7亿元人民币，同比增长</div>
<div class="t" style="left:104px;top:746px;width:526px;font-size:17px">24％。其中，复制权和表演权收益都呈现出翻倍的快速增长。</div>
<div class="t" style="left:700px;top:175px;width:476px;font-size:17px">2015年度中国音像著作权集体管理协会的总收入也创新</div>
<div class="t" style="left:659px;top:205px;width:517px;font-size:17px">高，达到1.55亿元人民币，不仅扭转了2014年收入减少的趋</div>
<div class="t" style="left:659px;top:234px;width:517px;font-size:17px">势，还同比实现11.51％的增长。网络直播的音乐版权问题</div>
<div class="t" style="left:659px;top:264px;width:517px;font-size:17px">也开始成为关注重点，线上KTV及网络演艺部分的音乐版权</div>
<div class="t" style="left:659px;top:293px;width:517px;font-size:17px">自2015年开始填补管理空白现象后，也逐步走向规范化管理</div>
<div class="t" style="left:659px;top:323px;width:80px;font-size:17px">的道路。</div>
<div class="t" style="left:700px;top:402px;width:476px;font-size:17px">2015年，中国数字音乐的市场规模达498.18亿元。其中</div>
<div class="t" style="left:659px;top:431px;width:517px;font-size:17px">PC端音乐市场规模为58.06亿元，同比增长13.4％；移动端</div>
<div class="t" style="left:659px;top:460px;width:517px;font-size:17px">音乐市场规模为41.5亿元，同比增加22.8％；电信音乐增值</div>
<div class="t" style="left:659px;top:490px;width:517px;font-size:17px">业务为398.62亿元，同比略有下降。网络音乐用户规模达到</div>
<div class="t" style="left:659px;top:520px;width:517px;font-size:17px">5.01亿，同比增长4.8％。音乐版权保护环境的持续改善，</div>
<div class="t" style="left:659px;top:549px;width:517px;font-size:17px">技术的不断创新、音乐服务的完善化，使得未来移动端数字</div>
<div class="t" style="left:659px;top:579px;width:517px;font-size:17px">音乐市场规模有望持续快速增长，数字音乐市场整体规模呈</div>
<div class="t" style="left:659px;top:608px;width:156px;font-size:17px">稳步上升的趋势。</div>
<div class="t" style="left:700px;top:1085px;width:476px;font-size:17px">2015年全国图书市场总销售收入为900亿元，其中音乐</div>
<div class="t" style="left:659px;top:1115px;width:517px;font-size:17px">图书出版总码洋为8.3亿元，同比增长10.6％。从发展趋势</div>
<div class="t" style="left:659px;top:1144px;width:517px;font-size:17px">来看，针对音乐图书发行规模小、受众专业性强等特点，各</div>
<h2 class="t" style="left:144px;top:658px;width:209px;font-size:18px">3、音乐版权经纪与管理</h2>
<h2 class="t" style="left:701px;top:372px;width:112px;font-size:18px">4、数字音乐</h2>
<h2 class="t" style="left:701px;top:1057px;width:148px;font-size:18px">5、音乐图书出版</h2>
<div class="t" style="left:780px;top:1605px;width:149px;font-size:17px">责任编辑：梁 珠</div>
<div class="fe">play_hand@sina.com</div>
</body></html>
